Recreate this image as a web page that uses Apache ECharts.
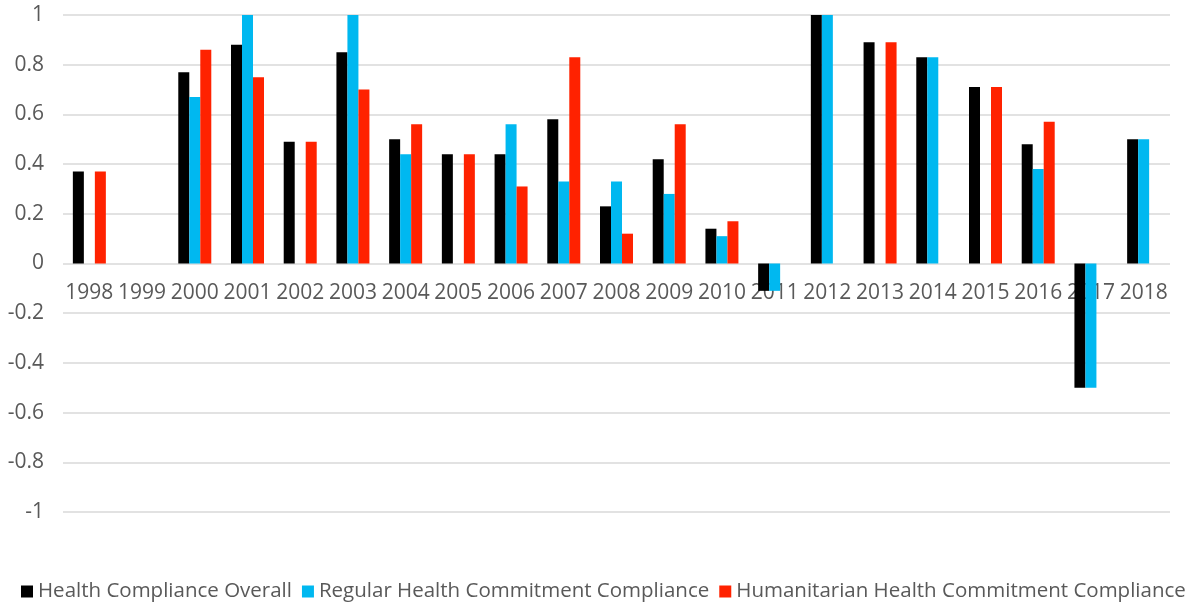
<!DOCTYPE html>
<html>
<head>
<meta charset="utf-8">
<script src="https://cdn.jsdelivr.net/npm/echarts@6/dist/echarts.min.js"></script>
<style>
html,body{margin:0;padding:0;background:#fff;}
#main{width:1197px;height:607px;}
</style>
</head>
<body>
<div id="main"></div>
<script>
const categories = ['1998','1999','2000','2001','2002','2003','2004','2005','2006','2007','2008','2009','2010','2011','2012','2013','2014','2015','2016','2017','2018'];
const overall =      [0.37, null, 0.77, 0.88, 0.49, 0.85, 0.50, 0.44, 0.44, 0.58, 0.23, 0.42, 0.14, -0.11, 1.00, 0.89, 0.83, 0.71, 0.48, -0.50, 0.50];
const regular =      [null, null, 0.67, 1.00, null, 1.00, 0.44, null, 0.56, 0.33, 0.33, 0.28, 0.11, -0.11, 1.00, null, 0.83, null, 0.38, -0.50, 0.50];
const humanitarian = [0.37, null, 0.86, 0.75, 0.49, 0.70, 0.56, 0.44, 0.31, 0.83, 0.12, 0.56, 0.17, null, null, 0.89, null, 0.71, 0.57, null, null];
const seriesNames = ['Health Compliance Overall','Regular Health Commitment Compliance','Humanitarian Health Commitment Compliance'];
const colors = ['#000000','#00b8f0','#ff2200'];

const FONT = '"Open Sans", "Noto Sans", sans-serif';
const chart = echarts.init(document.getElementById('main'), null, {renderer:'canvas'});
const mk = (i, data) => ({
  name: seriesNames[i], type: 'bar', data: data,
  barWidth: 11, barGap: '0%',
  itemStyle: {color: colors[i]}
});
chart.setOption({
  animation: false,
  grid: {left: 63, right: 27, top: 15, bottom: 95, containLabel: false},
  legend: {
    bottom: 0, left: 16,
    icon: 'rect', itemWidth: 12, itemHeight: 12, itemGap: 10,
    textStyle: {color: '#595959', fontSize: 20.5, fontFamily: FONT},
    data: seriesNames
  },
  xAxis: {
    type: 'category', data: categories,
    offset: -248.5,
    axisLine: {show: false, onZero: false},
    axisTick: {show: false},
    axisLabel: {color: '#595959', fontSize: 21, fontFamily: FONT, margin: 19, interval: 0}
  },
  yAxis: {
    type: 'value', min: -1, max: 1, interval: 0.2,
    axisLine: {show: false}, axisTick: {show: false},
    axisLabel: {color: '#595959', fontSize: 21, fontFamily: FONT, margin: 19,
      formatter: v => (Math.round(v*10)/10).toString()},
    splitLine: {lineStyle: {color: '#d9d9d9', width: 1.5}}
  },
  series: [mk(0, overall), mk(1, regular), mk(2, humanitarian)]
});
</script>
</body>
</html>
